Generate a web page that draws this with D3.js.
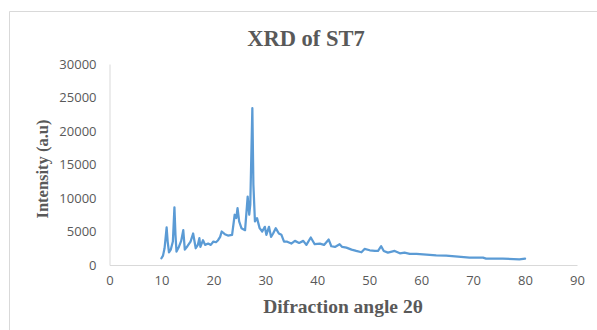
<!DOCTYPE html>
<html>
<head>
<meta charset="utf-8">
<script src="https://cdn.jsdelivr.net/npm/d3@7"></script>
<style>
  body { margin: 0; background: #fff; }
  svg { display: block; }
</style>
</head>
<body>
<svg id="chart" width="597" height="330"></svg>
<script>
// XRD pattern of ST7
const twoTheta = [10.0, 10.3, 10.6, 11.0, 11.2, 11.45, 11.8, 12.2, 12.5, 12.7, 12.9, 13.3, 13.8, 14.2, 14.5,
  15.0, 15.6, 16.1, 16.6, 17.0, 17.3, 17.5, 18.0, 18.4, 19.0, 19.5, 20.0, 20.5, 20.9, 21.3, 21.6,
  22.2, 22.8, 23.6, 24.1, 24.4, 24.65, 24.96, 25.4, 26.1, 26.6, 26.9, 27.1, 27.5, 27.7, 28.0, 28.4,
  28.9, 29.4, 29.9, 30.2, 30.7, 31.1, 31.5, 32.0, 32.6, 33.1, 33.6, 34.1, 35.0, 35.7, 36.5, 37.3,
  37.9, 38.75, 39.5, 40.5, 41.3, 42.2, 42.7, 43.4, 44.3, 44.8, 45.6, 46.6, 47.5, 48.5, 49.1, 50.1,
  51.1, 51.7, 52.3, 52.8, 53.6, 54.9, 55.9, 56.8, 57.8, 59.1, 61.0, 62.9, 64.8, 67.1, 69.3, 71.9,
  72.5, 75.7, 78.9, 80.0];
const intensity = [1000, 1400, 2500, 5600, 3500, 1900, 2300, 3500, 8600, 4500, 2000, 2600, 3600, 5200, 2300,
  2800, 3500, 4700, 2500, 3000, 4000, 2700, 3700, 3000, 3200, 3000, 3500, 3400, 3700, 4200, 5000,
  4600, 4400, 4500, 7500, 7000, 8500, 6500, 5500, 5200, 10200, 7500, 9000, 23400, 12000, 6500, 7000,
  5500, 5000, 5700, 4500, 5700, 4200, 4700, 5500, 4700, 4500, 3500, 3500, 3200, 3600, 3300, 3600,
  3000, 4100, 3100, 3200, 3000, 3800, 2800, 2700, 3100, 2700, 2600, 2300, 2100, 1900, 2400, 2200,
  2100, 2100, 2800, 2100, 1850, 2100, 1750, 1850, 1650, 1650, 1550, 1450, 1400, 1250, 1100, 1100,
  950, 950, 850, 950];
const xTicks = [0, 10, 20, 30, 40, 50, 60, 70, 80, 90];
const yTicks = [0, 5000, 10000, 15000, 20000, 25000, 30000];

const svg = d3.select("#chart");
const margin = { top: 64, right: 20, bottom: 65, left: 109.5 };
const width = 597, height = 330;
const axisColor = "#d9d9d9", textColor = "#595959";

// chart area border (only top & left visible in the crop)
svg.append("path")
  .attr("d", "M9.5,330 V11.5 H597")
  .attr("fill", "none").attr("stroke", axisColor).attr("stroke-width", 1);

const x = d3.scaleLinear().domain([0, 90]).range([margin.left, 577]);
const y = d3.scaleLinear().domain([0, 30000]).range([height - margin.bottom, margin.top]);

// x axis
const xAxis = svg.append("g")
  .attr("transform", `translate(0,${y(0)})`)
  .call(d3.axisBottom(x).tickValues(xTicks).tickSize(0).tickPadding(11).tickFormat(d3.format("d")));
xAxis.select(".domain").attr("stroke", axisColor);
xAxis.selectAll("text").attr("fill", textColor)
  .style("font-family", "'Open Sans', sans-serif").style("font-size", "13px");

// y axis
const yAxis = svg.append("g")
  .attr("transform", `translate(${margin.left},0)`)
  .call(d3.axisLeft(y).tickValues(yTicks).tickSize(0).tickPadding(13).tickFormat(d3.format("d")));
yAxis.select(".domain").attr("stroke", axisColor);
yAxis.selectAll("text").attr("fill", textColor)
  .style("font-family", "'Open Sans', sans-serif").style("font-size", "13px");

// the pattern
const line = d3.line().x((d, i) => x(twoTheta[i])).y(d => y(d));
svg.append("path")
  .datum(intensity)
  .attr("d", line)
  .attr("fill", "none")
  .attr("stroke", "#5b9bd5")
  .attr("stroke-width", 2.25)
  .attr("stroke-linejoin", "round")
  .attr("stroke-linecap", "round");

// titles
svg.append("text")
  .attr("x", 306).attr("y", 46)
  .attr("text-anchor", "middle")
  .attr("fill", textColor)
  .style("font-family", "'Liberation Serif', 'Times New Roman', serif")
  .style("font-weight", "bold").style("font-size", "22.5px")
  .text("XRD of ST7");

svg.append("text")
  .attr("x", 343).attr("y", 313)
  .attr("text-anchor", "middle")
  .attr("fill", textColor)
  .style("font-family", "'Liberation Serif', 'Times New Roman', serif")
  .style("font-weight", "bold").style("font-size", "19.5px")
  .text("Difraction angle 2θ");

svg.append("text")
  .attr("transform", "translate(48,169) rotate(-90)")
  .attr("text-anchor", "middle")
  .attr("fill", textColor)
  .style("font-family", "'Liberation Serif', 'Times New Roman', serif")
  .style("font-weight", "bold").style("font-size", "16.5px")
  .text("Intensity (a.u)");
</script>
</body>
</html>
